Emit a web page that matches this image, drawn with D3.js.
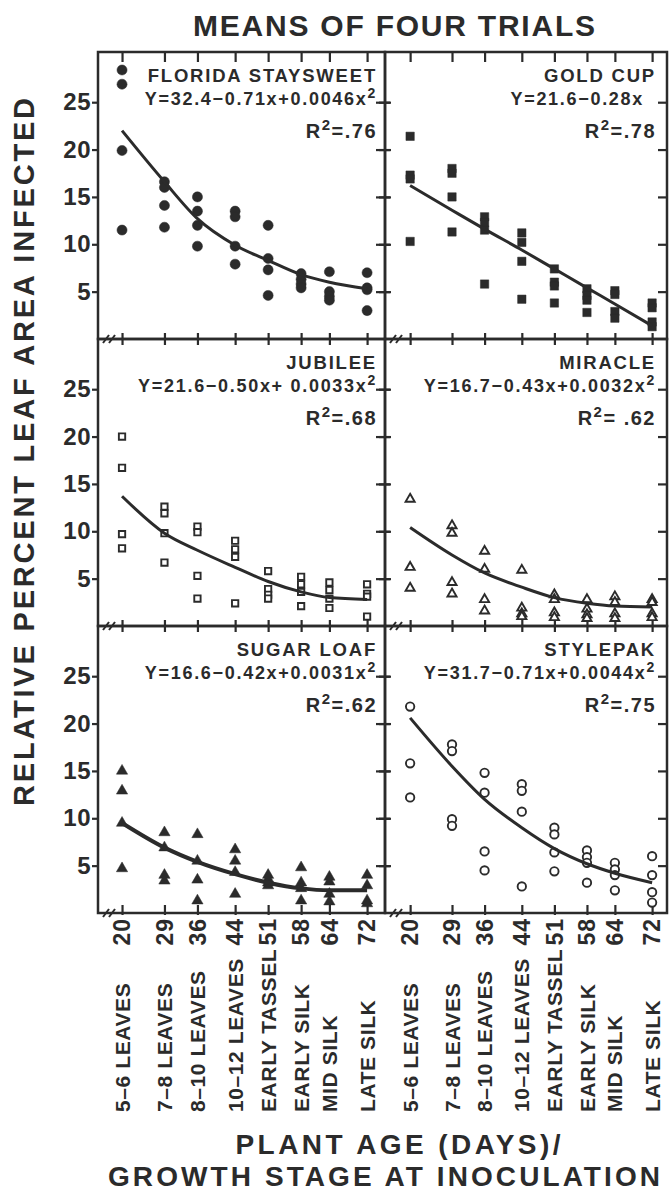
<!DOCTYPE html>
<html>
<head>
<meta charset="utf-8">
<script src="https://cdn.jsdelivr.net/npm/d3@7"></script>
<style>
  body { margin: 0; background: #fff; }
  text { font-family: "Liberation Sans", Arial, sans-serif; font-weight: bold; fill: #2b2b2b; }
</style>
</head>
<body>
<div id="chart"></div>
<script>
// plant age (days) and growth stage at inoculation
var days = [20, 29, 36, 44, 51, 58, 64, 72]
var stages = ["5–6 LEAVES", "7–8 LEAVES", "8–10 LEAVES", "10–12 LEAVES",
              "EARLY TASSEL", "EARLY SILK", "MID SILK", "LATE SILK"]
var yTicks = [5, 10, 15, 20, 25]

var floridaPts = [[28.4, 26.9, 19.9, 11.5], [16.6, 16.0, 14.1, 11.8], [15.0, 13.5, 12.0, 9.8], [13.5, 12.9, 9.8, 7.9],
                  [12.0, 8.5, 7.3, 4.6], [6.9, 6.3, 5.8, 5.4], [7.1, 5.0, 4.5, 4.1], [7.0, 5.4, 5.2, 3.0]]
var floridaFit = [22.0, 16.6, 12.7, 9.9, 8.3, 6.8, 6.0, 5.3]

var goldPts = [[21.4, 17.3, 16.9, 10.3], [18.0, 17.5, 15.0, 11.3], [12.9, 12.3, 11.5, 5.8], [11.2, 10.2, 8.2, 4.2],
               [7.4, 6.0, 5.6, 3.8], [5.3, 4.6, 4.1, 2.8], [5.1, 4.7, 2.9, 2.2], [3.8, 3.3, 1.8, 1.3]]
var goldFit = [16.2, 13.6, 11.6, 9.4, 7.4, 5.4, 3.7, 1.4]

var jubileePts = [[20.0, 16.7, 9.7, 8.2], [12.6, 11.9, 9.8, 6.7], [10.5, 9.9, 5.3, 2.9], [9.0, 8.1, 7.3, 2.4],
                  [5.8, 3.9, 3.3, 2.9], [5.2, 4.4, 3.6, 2.1], [4.6, 3.8, 2.9, 1.9], [4.4, 3.4, 3.1, 1.0]]
var jubileeFit = [13.7, 9.8, 8.0, 6.2, 4.7, 3.6, 3.0, 2.8]

var miraclePts = [[13.4, 6.2, 4.0], [10.6, 9.8, 4.6, 3.4], [7.9, 6.0, 2.8, 1.6], [5.9, 1.9, 1.3, 1.0],
                  [3.3, 2.8, 1.4, 0.9], [2.8, 1.8, 1.2, 0.8], [3.1, 2.5, 1.3, 0.8], [2.8, 2.5, 1.3, 0.9]]
var miracleFit = [10.4, 7.5, 5.6, 4.1, 3.0, 2.4, 2.1, 2.0]

var sugarPts = [[15.0, 12.9, 9.5, 4.7], [8.5, 6.9, 4.0, 3.4], [8.3, 5.5, 3.5, 1.3], [6.7, 5.5, 4.3, 2.0],
                [4.0, 3.6, 3.2, 2.9], [4.8, 3.2, 2.6, 1.3], [3.8, 3.3, 2.0, 1.2], [4.0, 2.9, 1.3, 1.0]]
var sugarFit = [9.5, 6.9, 5.4, 4.1, 3.2, 2.6, 2.4, 2.4]

var stylepakPts = [[21.8, 15.8, 12.2], [17.8, 17.1, 9.9, 9.2], [14.8, 12.7, 6.5, 4.5], [13.6, 12.9, 10.7, 2.8],
                   [9.0, 8.3, 6.4, 4.4], [6.6, 5.9, 5.3, 3.2], [5.3, 4.6, 4.0, 2.4], [6.0, 4.0, 2.2, 1.1]]
var stylepakFit = [20.6, 15.5, 12.0, 9.0, 6.8, 5.2, 4.2, 3.2]

var names = ["FLORIDA STAYSWEET", "GOLD CUP", "JUBILEE", "MIRACLE", "SUGAR LOAF", "STYLEPAK"]
var equations = ["Y=32.4−0.71x+0.0046x", "Y=21.6−0.28x", "Y=21.6−0.50x+ 0.0033x",
                 "Y=16.7−0.43x+0.0032x", "Y=16.6−0.42x+0.0031x", "Y=31.7−0.71x+0.0044x"]
var squared = [true, false, true, true, true, true]
var rSquared = ["=.76", "=.78", "=.68", "= .62", "=.62", "=.75"]

var panels = [
  {col: 0, row: 0, pts: floridaPts, fit: floridaFit, mark: "dot", fitW: 3},
  {col: 1, row: 0, pts: goldPts, fit: goldFit, mark: "square", fitW: 3},
  {col: 0, row: 1, pts: jubileePts, fit: jubileeFit, mark: "osquare", fitW: 3},
  {col: 1, row: 1, pts: miraclePts, fit: miracleFit, mark: "otri", fitW: 3},
  {col: 0, row: 2, pts: sugarPts, fit: sugarFit, mark: "tri", fitW: 4},
  {col: 1, row: 2, pts: stylepakPts, fit: stylepakFit, mark: "ocircle", fitW: 3}
]

// layout
var width = 670, height = 1192
var colX = [[98, 385], [385, 667]]
var colDomain = [[14.9, 75.8], [14.6, 75.2]]
var rowY = [[52, 339], [339, 626], [626, 913]]
var ink = "#2b2b2b"

var svg = d3.select("#chart").append("svg")
  .attr("width", width)
  .attr("height", height)

var xScales = colX.map(function(c, i) {
  return d3.scaleLinear().domain(colDomain[i]).range(c)
})
var yScales = rowY.map(function(r) {
  return d3.scaleLinear().domain([0, 30.3]).range([r[1], r[0]])
})

// title
svg.append("text")
  .attr("x", 394).attr("y", 36)
  .attr("text-anchor", "middle")
  .attr("textLength", 402)
  .style("font-size", "30px")
  .text("MEANS OF FOUR TRIALS")

// y axis title
svg.append("text")
  .attr("transform", "translate(34,452) rotate(-90)")
  .attr("text-anchor", "middle")
  .attr("textLength", 708)
  .style("font-size", "29px")
  .text("RELATIVE PERCENT LEAF AREA INFECTED")

function styleAxis(g) {
  g.select(".domain").remove()
  g.selectAll(".tick line").attr("stroke", ink).attr("stroke-width", 2.2)
  g.selectAll(".tick text").attr("fill", ink)
    .style("font-size", "24px").style("letter-spacing", "0.5px")
    .style("font-family", "Liberation Sans, Arial, sans-serif").style("font-weight", "bold")
}

// axes for each panel
panels.forEach(function(p) {
  var x = xScales[p.col], y = yScales[p.row]
  var x0 = colX[p.col][0], x1 = colX[p.col][1]
  var y0 = rowY[p.row][0], y1 = rowY[p.row][1]
  var g = svg.append("g")

  // left ticks (with labels in the first column)
  if (p.col == 0) {
    g.append("g")
      .attr("transform", "translate(" + x0 + ",0)")
      .call(d3.axisLeft(y).tickValues(yTicks).tickSize(6).tickPadding(1))
      .call(styleAxis)
  } else {
    g.append("g")
      .attr("transform", "translate(" + x0 + ",0)")
      .call(d3.axisLeft(y).tickValues(yTicks).tickSize(6).tickFormat(""))
      .call(styleAxis)
    g.append("g")
      .attr("transform", "translate(" + x0 + ",0)")
      .call(d3.axisRight(y).tickValues(yTicks).tickSize(6).tickFormat(""))
      .call(styleAxis)
  }
  // right edge ticks
  g.append("g")
    .attr("transform", "translate(" + x1 + ",0)")
    .call(d3.axisLeft(y).tickValues(yTicks).tickSize(9).tickFormat(""))
    .call(styleAxis)
  if (p.col == 0) {
    g.append("g")
      .attr("transform", "translate(" + x1 + ",0)")
      .call(d3.axisRight(y).tickValues(yTicks).tickSize(5).tickFormat(""))
      .call(styleAxis)
  }

  // top edge ticks
  if (p.row == 0) {
    g.append("g")
      .attr("transform", "translate(0," + y0 + ")")
      .call(d3.axisBottom(x).tickValues(days).tickSize(10).tickFormat(""))
      .call(styleAxis)
  }
  // bottom edge ticks
  g.append("g")
    .attr("transform", "translate(0," + y1 + ")")
    .call(d3.axisTop(x).tickValues(days).tickSize(p.row == 2 ? 8 : 6).tickFormat(""))
    .call(styleAxis)
  g.append("g")
    .attr("transform", "translate(0," + y1 + ")")
    .call(d3.axisBottom(x).tickValues(days).tickSize(p.row == 2 ? 2 : 6).tickFormat(""))
    .call(styleAxis)

  // frame
  g.append("rect")
    .attr("x", x0).attr("y", y0)
    .attr("width", x1 - x0).attr("height", y1 - y0)
    .attr("fill", "none")
    .attr("stroke", ink)
    .attr("stroke-width", 2.5)

  // axis break marks
  ;[8, 14].forEach(function(dx) {
    g.append("line")
      .attr("x1", x0 + dx - 3).attr("y1", y1 + 4)
      .attr("x2", x0 + dx + 3).attr("y2", y1 - 4)
      .attr("stroke", ink).attr("stroke-width", 2)
  })
})

// marker shapes
var symbols = {
  dot: {type: d3.symbolCircle, size: 80, fill: true},
  square: {type: d3.symbolSquare, size: 70, fill: true},
  osquare: {type: d3.symbolSquare, size: 40, fill: false},
  otri: {type: d3.symbolTriangle, size: 36, fill: false},
  tri: {type: d3.symbolTriangle, size: 55, fill: true},
  ocircle: {type: d3.symbolCircle, size: 55, fill: false}
}

panels.forEach(function(p, i) {
  var x = xScales[p.col], y = yScales[p.row]
  var x1 = colX[p.col][1], y0 = rowY[p.row][0]
  var g = svg.append("g")

  var points = []
  p.pts.forEach(function(vals, k) {
    vals.forEach(function(v) { points.push({day: days[k], v: v}) })
  })
  var s = symbols[p.mark]
  g.selectAll("path.pt")
    .data(points)
    .enter()
    .append("path")
    .attr("class", "pt")
    .attr("transform", function(d) { return "translate(" + x(d.day) + "," + y(d.v) + ")" })
    .attr("d", d3.symbol().type(s.type).size(s.size))
    .attr("fill", s.fill ? ink : "#fff")
    .attr("stroke", ink)
    .attr("stroke-width", s.fill ? 0.5 : 1.9)

  // fitted curve
  var drawPath = d3.line()
    .x(function(d, k) { return x(days[k]) })
    .y(function(d) { return y(d) })
    .curve(d3.curveMonotoneX)
  g.append("path")
    .attr("d", drawPath(p.fit))
    .attr("fill", "none")
    .attr("stroke", ink)
    .attr("stroke-width", p.fitW)

  // variety name, equation, R2
  var right = x1 - (p.col == 0 ? 8 : 11)
  g.append("text")
    .attr("x", right).attr("y", y0 + 30)
    .attr("text-anchor", "end")
    .style("font-size", "18.5px").style("letter-spacing", "1.8px")
    .text(names[i])
  var eq = g.append("text")
    .attr("x", squared[i] ? right : right - 12).attr("y", y0 + 53)
    .attr("text-anchor", "end")
    .style("font-size", "18px").style("letter-spacing", "1.7px")
  eq.append("tspan").text(equations[i])
  if (squared[i]) {
    eq.append("tspan").attr("dy", -7).style("font-size", "14px").text("2")
  }
  var r2 = g.append("text")
    .attr("x", right).attr("y", y0 + 86)
    .attr("text-anchor", "end")
    .style("font-size", "20px").style("letter-spacing", "1.5px")
  r2.append("tspan").text("R")
  r2.append("tspan").attr("dy", -8).style("font-size", "15px").text("2")
  r2.append("tspan").attr("dy", 8).text(rSquared[i])
})

// x tick labels: days and growth stages, for both columns
xScales.forEach(function(x) {
  var g = svg.append("g")
  g.selectAll("text.day")
    .data(days)
    .enter()
    .append("text")
    .attr("class", "day")
    .attr("transform", function(d) { return "translate(" + x(d) + ",918) rotate(-90)" })
    .attr("text-anchor", "end")
    .attr("dy", "0.36em")
    .style("font-size", "23px").style("letter-spacing", "1px")
    .text(function(d) { return d })
  g.selectAll("text.stage")
    .data(stages)
    .enter()
    .append("text")
    .attr("class", "stage")
    .attr("transform", function(d, k) { return "translate(" + x(days[k]) + ",1112) rotate(-90)" })
    .attr("text-anchor", "start")
    .attr("dy", "0.36em")
    .style("font-size", "21px").style("letter-spacing", "0.6px")
    .text(function(d) { return d })
})

// x axis title
svg.append("text")
  .attr("x", 398).attr("y", 1154)
  .attr("text-anchor", "middle")
  .attr("textLength", 325)
  .style("font-size", "28px")
  .text("PLANT AGE (DAYS)/")
svg.append("text")
  .attr("x", 384).attr("y", 1186)
  .attr("text-anchor", "middle")
  .attr("textLength", 552)
  .style("font-size", "28px")
  .text("GROWTH STAGE AT INOCULATION")
</script>
</body>
</html>
